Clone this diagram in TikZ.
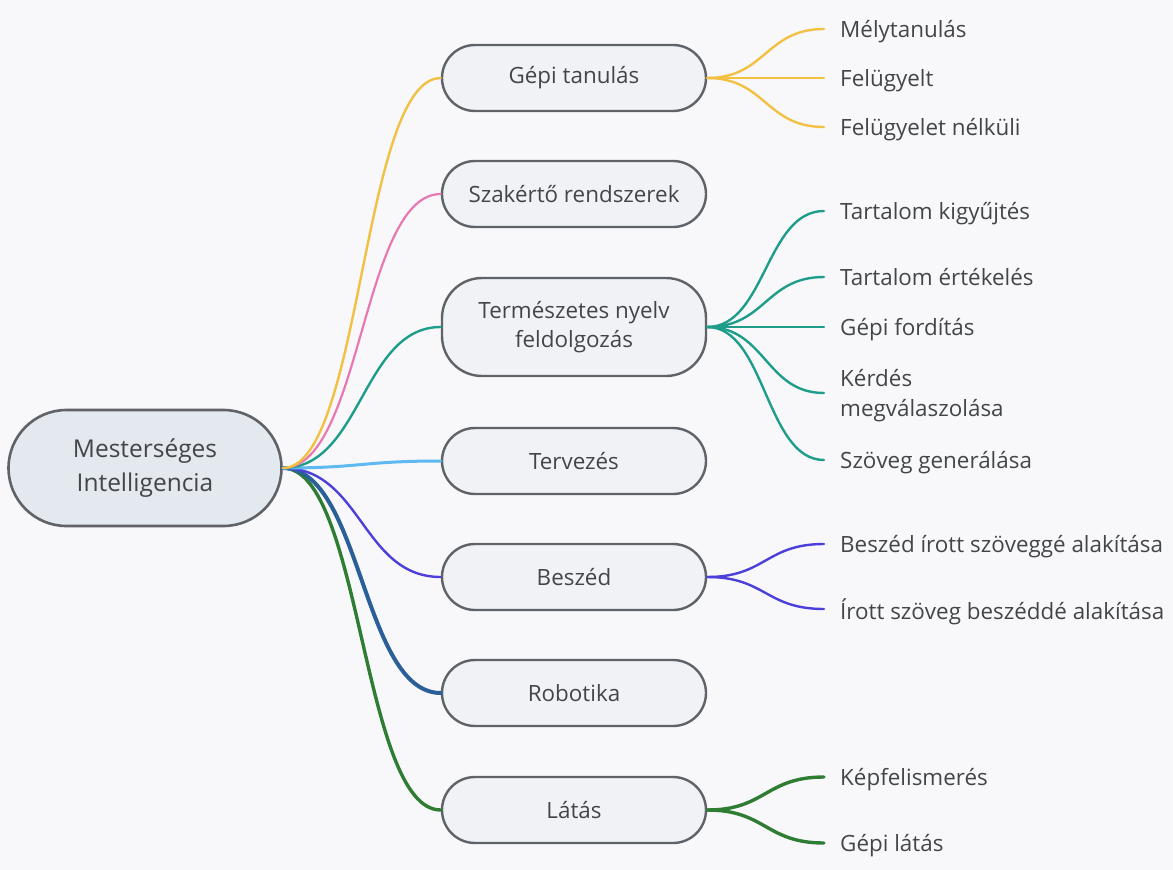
\documentclass[tikz,border=0pt]{standalone}
\usepackage{fontspec}
\setmainfont{Open Sans}
\usetikzlibrary{calc}
\definecolor{bgc}{HTML}{F8F8FB}
\definecolor{nodeline}{HTML}{5F6368}
\definecolor{rootfill}{HTML}{E4E8EF}
\definecolor{topicfill}{HTML}{F0F2F5}
\definecolor{txt}{HTML}{434649}
\definecolor{cyel}{HTML}{F2C144}
\definecolor{cpink}{HTML}{E779B2}
\definecolor{cteal}{HTML}{1E9E8A}
\definecolor{clblue}{HTML}{5DB9F0}
\definecolor{cpurple}{HTML}{4C3FDA}
\definecolor{cdblue}{HTML}{2B5F98}
\definecolor{cgreen}{HTML}{2F7D33}
\begin{document}
\begin{tikzpicture}[x=1pt,y=-1pt,
  rootbox/.style={draw=nodeline, line width=2.6pt, fill=rootfill,
    rounded corners=58pt, minimum width=273pt, minimum height=116pt,
    inner sep=0pt, align=center, text=txt,
    font=\fontsize{24.5}{34}\selectfont},
  topicbox/.style={draw=nodeline, line width=2.4pt, fill=topicfill,
    rounded corners=33pt, minimum width=264pt, minimum height=66pt,
    inner sep=0pt, align=center, text=txt,
    font=\fontsize{22.4}{29}\selectfont},
  leaf/.style={anchor=west, inner xsep=16pt, inner ysep=0pt, align=left,
    text depth=0pt, text=txt, font=\fontsize{22.4}{29.5}\selectfont},
  branch/.style={line cap=round, to path={let \p1=(\tikztostart), \p2=(\tikztotarget) in
    .. controls ({(\x1+\x2)/2},\y1) and ({(\x1+\x2)/2},\y2) .. (\tikztotarget)}}
]
\fill[bgc] (0,0) rectangle (1173,870);
\useasboundingbox (0,0) rectangle (1173,870);

% central topic and its main branches
\node[rootbox] (root) at (145,468) {Mesterséges\\Intelligencia};
\node[topicbox] (gt) at (574,78) {Gépi tanulás};
\node[topicbox] (sz) at (574,194) {Szakértő rendszerek};
\node[topicbox, minimum height=98pt, rounded corners=40pt] (tn) at (574,327) {Természetes nyelv\\feldolgozás};
\node[topicbox] (tv) at (574,461) {Tervezés};
\node[topicbox] (bs) at (574,577) {Beszéd};
\node[topicbox] (rb) at (574,693) {Robotika};
\node[topicbox] (lt) at (574,810) {Látás};

% leaves
\node[leaf] (l1) at (824,29) {Mélytanulás};
\node[leaf] (l2) at (824,78) {Felügyelt};
\node[leaf] (l3) at (824,127) {Felügyelet nélküli};
\node[leaf] (n1) at (824,211) {Tartalom kigyűjtés};
\node[leaf] (n2) at (824,277) {Tartalom értékelés};
\node[leaf] (n3) at (824,327) {Gépi fordítás};
\node[leaf] (n4) at (824,393) {Kérdés\\megválaszolása};
\node[leaf] (n5) at (824,460) {Szöveg generálása};
\node[leaf] (b1) at (824,544) {Beszéd írott szöveggé alakítása};
\node[leaf] (b2) at (824,609) {Írott szöveg beszéddé alakítása};
\node[leaf] (v1) at (824,777) {Képfelismerés};
\node[leaf] (v2) at (824,843) {Gépi látás};

% connectors from the central topic
\begin{scope}[branch]
\draw[cgreen, line width=3.4pt] (root.east) to (lt.west);
\draw[cdblue, line width=4pt] (root.east) to (rb.west);
\draw[cpurple, line width=2.4pt] (root.east) to (bs.west);
\draw[clblue, line width=3pt] (root.east) to (tv.west);
\draw[cteal, line width=2.4pt] (root.east) to (tn.west);
\draw[cpink, line width=2.2pt] (root.east) to (sz.west);
\draw[cyel, line width=2.4pt] (root.east) to (gt.west);

% connectors to the leaves
\foreach \t in {l1,l2,l3} \draw[cyel, line width=2.4pt] (gt.east) to (\t.west);
\foreach \t in {n1,n2,n3,n4,n5} \draw[cteal, line width=2.4pt] (tn.east) to (\t.west);
\foreach \t in {b1,b2} \draw[cpurple, line width=2.4pt] (bs.east) to (\t.west);
\foreach \t in {v1,v2} \draw[cgreen, line width=3.4pt] (lt.east) to (\t.west);
\end{scope}
\end{tikzpicture}
\end{document}
